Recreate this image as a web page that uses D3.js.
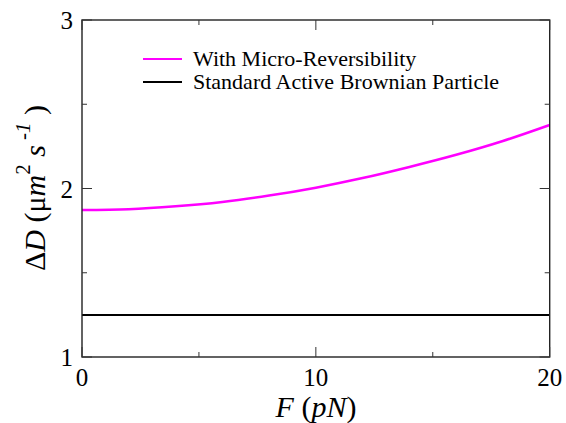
<!DOCTYPE html>
<html>
<head>
<meta charset="utf-8">
<script src="https://cdn.jsdelivr.net/npm/d3@7"></script>
<style>
  body { margin: 0; background: #fff; }
</style>
</head>
<body>
<svg width="566" height="423"></svg>
<script>
// data
var forceF = [0, 2, 4, 6, 8, 10, 12, 14, 16, 18, 20];
var microRev = [1.872, 1.877, 1.894, 1.920, 1.958, 2.005, 2.062, 2.128, 2.200, 2.282, 2.377];
var standardABP = [1.25, 1.25, 1.25, 1.25, 1.25, 1.25, 1.25, 1.25, 1.25, 1.25, 1.25];
var xTicks = [0, 10, 20];
var xMinor = [5, 15];
var yTicks = [1, 2, 3];
var yMinor = [1.5, 2.5];
var legendNames = ["With Micro-Reversibility", "Standard Active Brownian Particle"];
var legendColors = ["#ff00ff", "#000000"];

var serif = "'Liberation Serif', 'Times New Roman', serif";

var svg = d3.select("svg");
var plotL = 82, plotR = 549.7, plotT = 20, plotB = 357;

var x = d3.scaleLinear().domain([0, 20]).range([plotL, plotR]);
var y = d3.scaleLinear().domain([1, 3]).range([plotB, plotT]);

var g = svg.append("g").attr("font-family", serif);

// data lines
var line = d3.line()
  .x(function(d, i) { return x(forceF[i]); })
  .y(function(d) { return y(d); })
  .curve(d3.curveMonotoneX);

g.append("path").datum(standardABP)
  .attr("d", line).attr("fill", "none")
  .attr("stroke", legendColors[1]).attr("stroke-width", 2);

g.append("path").datum(microRev)
  .attr("d", line).attr("fill", "none")
  .attr("stroke", legendColors[0]).attr("stroke-width", 2.5);

// frame
g.append("rect")
  .attr("x", plotL).attr("y", plotT)
  .attr("width", plotR - plotL).attr("height", plotB - plotT)
  .attr("fill", "none").attr("stroke", "#222").attr("stroke-width", 1.4);

// ticks, inward on all four sides
function tickLines(vals, len, isX) {
  vals.forEach(function(v) {
    if (isX) {
      g.append("line").attr("x1", x(v)).attr("x2", x(v)).attr("y1", plotB).attr("y2", plotB - len)
        .attr("stroke", "#333").attr("stroke-width", 1);
      g.append("line").attr("x1", x(v)).attr("x2", x(v)).attr("y1", plotT).attr("y2", plotT + len)
        .attr("stroke", "#333").attr("stroke-width", 1);
    } else {
      g.append("line").attr("y1", y(v)).attr("y2", y(v)).attr("x1", plotL).attr("x2", plotL + len)
        .attr("stroke", "#333").attr("stroke-width", 1);
      g.append("line").attr("y1", y(v)).attr("y2", y(v)).attr("x1", plotR).attr("x2", plotR - len)
        .attr("stroke", "#333").attr("stroke-width", 1);
    }
  });
}
tickLines(xTicks, 10, true);
tickLines(xMinor, 5, true);
tickLines(yTicks, 10, false);
tickLines(yMinor, 5, false);

// tick labels
g.selectAll(".xl").data(xTicks).enter().append("text")
  .attr("x", function(d) { return x(d); })
  .attr("y", 386)
  .attr("text-anchor", "middle")
  .attr("font-family", serif)
  .attr("font-size", 25)
  .text(function(d) { return d; });

g.selectAll(".yl").data(yTicks).enter().append("text")
  .attr("x", plotL - 9)
  .attr("y", function(d) { return y(d) + 9; })
  .attr("text-anchor", "end")
  .attr("font-family", serif)
  .attr("font-size", 25)
  .text(function(d) { return d; });

// legend
legendNames.forEach(function(name, i) {
  var ly = 59 + i * 23;
  g.append("line").attr("x1", 143).attr("x2", 182).attr("y1", ly).attr("y2", ly)
    .attr("stroke", legendColors[i]).attr("stroke-width", 2);
  g.append("text").attr("x", 193).attr("y", ly + 7)
    .attr("font-family", serif)
    .attr("font-size", 22).text(name);
});

// x axis title
var xt = g.append("text").attr("x", 316).attr("y", 417)
  .attr("text-anchor", "middle").attr("font-family", serif).attr("font-size", 30);
xt.append("tspan").attr("font-style", "italic").text("F");
xt.append("tspan").text(" (");
xt.append("tspan").attr("font-style", "italic").text("pN");
xt.append("tspan").text(")");

// y axis title
var yt = g.append("text")
  .attr("transform", "translate(45,188) rotate(-90)")
  .attr("text-anchor", "middle").attr("font-family", serif).attr("font-size", 30);
yt.append("tspan").text("\u0394");
yt.append("tspan").attr("font-style", "italic").text("D");
yt.append("tspan").text(" (\u03bc");
yt.append("tspan").attr("font-style", "italic").text("m");
yt.append("tspan").attr("dy", -15).attr("font-size", 21).text("2");
yt.append("tspan").attr("dy", 15).attr("font-style", "italic").text(" s");
yt.append("tspan").attr("dy", -15).attr("font-size", 21).text(" -");
yt.append("tspan").attr("font-size", 21).attr("font-style", "italic").text("1");
yt.append("tspan").attr("dy", 15).text(" )");
</script>
</body>
</html>
